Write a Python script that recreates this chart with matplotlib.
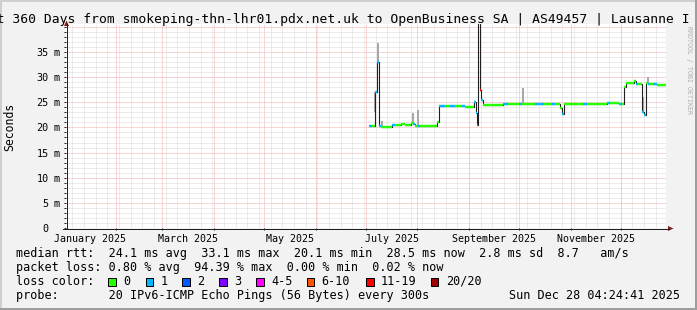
import matplotlib
matplotlib.use("Agg")
import matplotlib.pyplot as plt
import matplotlib.dates as mdates
from matplotlib.lines import Line2D
from matplotlib.patches import Polygon, Rectangle
import pandas as pd

W, H, DPI = 697, 310, 100
MONO = "DejaVu Sans Mono"

# ------------------------------------------------------------------ data
end_time = pd.Timestamp("2025-12-28 04:24:41")
start_time = end_time - pd.Timedelta(days=360)

# median rtt step segments (start time, value in ms, loss class index)
seg_start = [
    "2025-07-03 00:00", "2025-07-05 00:00", "2025-07-06 14:00", "2025-07-07 19:00",
    "2025-07-09 04:00", "2025-07-10 04:00", "2025-07-17 00:00", "2025-07-18 12:00",
    "2025-07-22 10:00", "2025-07-24 12:00", "2025-07-28 10:00", "2025-07-29 10:00",
    "2025-07-30 14:00", "2025-08-01 10:00", "2025-08-02 14:00", "2025-08-13 00:00",
    "2025-08-14 05:00", "2025-08-17 19:00", "2025-08-20 14:00", "2025-08-23 14:00",
    "2025-08-27 14:00", "2025-08-29 14:00", "2025-09-04 00:00", "2025-09-04 22:00",
    "2025-09-05 12:00", "2025-09-06 14:00", "2025-09-07 12:00", "2025-09-08 10:00",
    "2025-09-09 10:00", "2025-09-21 10:00", "2025-09-24 10:00", "2025-09-30 19:00",
    "2025-10-02 14:00", "2025-10-10 10:00", "2025-10-12 19:00", "2025-10-13 12:00",
    "2025-10-15 19:00", "2025-10-20 14:00", "2025-10-22 10:00", "2025-10-25 10:00",
    "2025-10-26 22:00", "2025-10-28 05:00", "2025-11-08 14:00", "2025-11-10 14:00",
    "2025-11-22 14:00", "2025-11-24 10:00", "2025-11-29 19:00", "2025-12-01 14:00",
    "2025-12-03 05:00", "2025-12-04 05:00", "2025-12-09 00:00", "2025-12-10 10:00",
    "2025-12-11 10:00", "2025-12-14 00:00", "2025-12-15 00:00", "2025-12-16 00:00",
    "2025-12-17 10:00", "2025-12-18 14:00", "2025-12-20 12:00", "2025-12-22 14:00",
]
seg_ms = [
    20.2, 20.3, 27.1, 33.1,
    20.3, 20.1, 20.4, 20.4,
    20.7, 20.5, 20.8, 20.7,
    20.3, 20.3, 20.3, 21.1,
    24.2, 24.3, 24.3, 24.3,
    24.3, 24.1, 25.1, 22.8,
    20.5, 45.0, 27.4, 25.4,
    24.45, 24.6, 24.65, 24.65,
    24.65, 24.65, 24.65, 24.65,
    24.65, 24.65, 24.65, 23.8,
    22.6, 24.6, 24.6, 24.6,
    24.85, 24.85, 24.6, 24.6,
    28.1, 28.9, 29.3, 28.6,
    28.6, 23.0, 22.4, 28.8,
    28.6, 28.6, 28.6, 28.5,
]
seg_loss = [
    1, 0, 1, 1,
    1, 0, 1, 0,
    0, 0, 0, 1,
    0, 1, 0, 0,
    1, 0, 1, 0,
    1, 0, 1, 1,
    4, 6, 6, 1,
    0, 1, 0, 1,
    0, 1, 0, 1,
    0, 1, 0, 0,
    1, 0, 1, 0,
    1, 0, 1, 0,
    0, 0, 0, 1,
    0, 1, 1, 0,
    1, 0, 1, 0,
]

# smoke (ping spread) at a few spikes
smoke_time = ["2025-07-06 20:00", "2025-07-08 06:00", "2025-07-10 12:00",
              "2025-07-29 10:00", "2025-08-01 10:00", "2025-10-03 10:00",
              "2025-12-14 12:00", "2025-12-17 10:00"]
smoke_lo = [23.0, 33.1, 20.2, 20.8, 20.5, 24.7, 23.1, 28.7]
smoke_hi = [27.1, 36.7, 21.3, 22.8, 23.5, 27.8, 26.1, 30.0]

loss_labels = ["0", "1", "2", "3", "4-5", "6-10", "11-19", "20/20"]
loss_colors = ["#26ff00", "#00b8ff", "#0059ff", "#7e00ff",
               "#ff00ff", "#ff5500", "#ff0000", "#a10000"]

y_ticks = [0, 5, 10, 15, 20, 25, 30, 35]
month_labels = ["January 2025", "March 2025", "May 2025",
                "July 2025", "September 2025", "November 2025"]
month_label_start = ["2025-01-01", "2025-03-01", "2025-05-01",
                     "2025-07-01", "2025-09-01", "2025-11-01"]

title = ("Last 360 Days from smokeping-thn-lhr01.pdx.net.uk to "
         "OpenBusiness SA | AS49457 | Lausanne I")
line_rtt = "median rtt:  24.1 ms avg  33.1 ms max  20.1 ms min  28.5 ms now  2.8 ms sd  8.7   am/s"
line_loss = "packet loss: 0.80 % avg  94.39 % max  0.00 % min  0.02 % now"
line_color = "loss color:"
line_probe = "probe:       20 IPv6-ICMP Echo Pings (56 Bytes) every 300s"
stamp = "Sun Dec 28 04:24:41 2025"

# ------------------------------------------------------------------ layout helpers
def fx(x):
    return x / W

def fy(y):
    return 1 - y / H

PX = 72.0 / DPI  # points per pixel

fig = plt.figure(figsize=(W / DPI, H / DPI), dpi=DPI)
fig.patch.set_facecolor("#f2f2f2")

AX_L, AX_R, AX_T, AX_B = 66, 666, 24, 228
ax = fig.add_axes([fx(AX_L), fy(AX_B), (AX_R - AX_L) / W, (AX_B - AX_T) / H])
ax.set_facecolor("white")
px_per_ms = 5.029
ax.set_ylim(0, (AX_B - AX_T) / px_per_ms)
t0 = mdates.date2num(start_time.to_pydatetime())
t1 = mdates.date2num(end_time.to_pydatetime())
ax.set_xlim(t0, t1)
for s in ax.spines.values():
    s.set_visible(False)

# ---- grid
minor_c = "#d9d9d9"
major_c = "#f3acac"
dot = (0, (1, 1))
ymax = ax.get_ylim()[1]
for v in range(1, int(ymax) + 1):
    if v % 5 == 0:
        ax.axhline(v, color=major_c, lw=PX, ls=dot, zorder=1.1)
    else:
        ax.axhline(v, color=minor_c, lw=PX, ls=dot, zorder=1)
weeks = pd.date_range(start_time.normalize(), end_time, freq="W-MON")
for w in weeks:
    ax.axvline(mdates.date2num(w.to_pydatetime()), color=minor_c, lw=PX, ls=dot, zorder=1)
months = pd.date_range("2025-01-01", end_time, freq="MS")
for m in months:
    xm = mdates.date2num(m.to_pydatetime())
    if t0 < xm < t1:
        ax.axvline(xm, color=major_c, lw=PX, ls=dot, zorder=1.1)

# ---- ticks (marks only)
ax.set_yticks(y_ticks)
ax.set_yticks(list(range(0, int(ymax) + 1)), minor=True)
ax.set_xticks([mdates.date2num(m.to_pydatetime()) for m in months
               if t0 < mdates.date2num(m.to_pydatetime()) < t1])
ax.tick_params(axis="both", which="both", direction="out", length=2 * PX,
               width=PX, color="#1f1f1f", labelleft=False, labelbottom=False)

# ---- data
st = [mdates.date2num(pd.Timestamp(s).to_pydatetime()) for s in seg_start]
en = st[1:] + [t1]
ax.plot(st + [t1], seg_ms + [seg_ms[-1]], drawstyle="steps-post",
        color="#202020", lw=1.1 * PX, zorder=3)
sm_t = [mdates.date2num(pd.Timestamp(s).to_pydatetime()) for s in smoke_time]
ax.vlines(sm_t, smoke_lo, smoke_hi, color="#a8a8a8", lw=2 * PX, zorder=2.5)
for a, b, v, l in zip(st, en, seg_ms, seg_loss):
    ax.hlines(v, a, b, color=loss_colors[l], lw=2.4 * PX, zorder=4)

# ---- axis lines and arrows
fig.add_artist(Line2D([fx(66.5), fx(66.5)], [fy(AX_B), fy(24)], color="#1f1f1f", lw=PX))
fig.add_artist(Line2D([fx(63), fx(669)], [fy(AX_B + 0.5), fy(AX_B + 0.5)], color="#1f1f1f", lw=PX))
arrow_c = "#801f1f"
fig.add_artist(Polygon([[fx(66.5), fy(20.5)], [fx(64), fy(26)], [fx(69), fy(26)]],
                       closed=True, color=arrow_c, lw=0))
fig.add_artist(Polygon([[fx(673.5), fy(228.5)], [fx(668), fy(226)], [fx(668), fy(231)]],
                       closed=True, color=arrow_c, lw=0))

# ---- y tick labels
for v in y_ticks:
    yp = AX_B - v * px_per_ms
    fig.text(fx(48.8), fy(yp), str(v), ha="right", va="center_baseline",
             fontsize=7.3, family=MONO, color="black")
    if v != 0:
        fig.text(fx(54), fy(yp), "m", ha="left", va="center_baseline",
                 fontsize=7.3, family=MONO, color="black")

# ---- x labels (centred on the month)
for lab, ms in zip(month_labels, month_label_start):
    a = pd.Timestamp(ms)
    b = a + pd.offsets.MonthBegin(1)
    mid = a + (b - a) / 2
    ax.annotate(lab, xy=(mdates.date2num(mid.to_pydatetime()), 0),
                xycoords=("data", "axes fraction"), xytext=(0, -9.5 * PX),
                textcoords="offset points", ha="center", va="center_baseline",
                fontsize=7.2, family=MONO, annotation_clip=False)

# ---- titles / labels
fig.text(fx(-27), fy(23), title, ha="left", va="baseline", fontsize=9.33, family=MONO)
fig.text(fx(10), fy(127), "Seconds", rotation=90, ha="center", va="center",
         fontsize=8.3, family=MONO)
fig.text(fx(689), fy(70), "RRDTOOL / TOBI OETIKER", rotation=270, ha="center",
         va="center", fontsize=4.8, family=MONO, color="#b0b0b0")

# ---- legend
LF = 8.47
fig.text(fx(16), fy(257.5), line_rtt, ha="left", va="baseline", fontsize=LF, family=MONO)
fig.text(fx(16), fy(271.2), line_loss, ha="left", va="baseline", fontsize=LF, family=MONO)
fig.text(fx(16), fy(284.9), line_color, ha="left", va="baseline", fontsize=LF, family=MONO)
fig.text(fx(16), fy(298.6), line_probe, ha="left", va="baseline", fontsize=LF, family=MONO)
fig.text(fx(680), fy(298.6), stamp, ha="right", va="baseline", fontsize=LF, family=MONO)

box_x = [108.3, 145.7, 182.3, 219.3, 256.0, 306.7, 366.0, 430.7]
for bx, lab, col in zip(box_x, loss_labels, loss_colors):
    fig.add_artist(Rectangle((fx(bx), fy(286)), 7.5 / W, 8 / H, facecolor=col,
                             edgecolor="black", lw=PX))
    fig.text(fx(bx + 15), fy(284.9), lab, ha="left", va="baseline", fontsize=LF, family=MONO)

# ---- 3D frame
fig.add_artist(Rectangle((0, fy(2)), 1, 2 / H, facecolor="#cfcfcf", lw=0))
fig.add_artist(Rectangle((0, 0), 2 / W, 1, facecolor="#cfcfcf", lw=0))
fig.add_artist(Rectangle((0, 0), 1, 2 / H, facecolor="#9e9e9e", lw=0))
fig.add_artist(Rectangle((fx(W - 2), 0), 2 / W, 1, facecolor="#9e9e9e", lw=0))

fig.savefig("out.png", dpi=DPI, facecolor=fig.get_facecolor())
